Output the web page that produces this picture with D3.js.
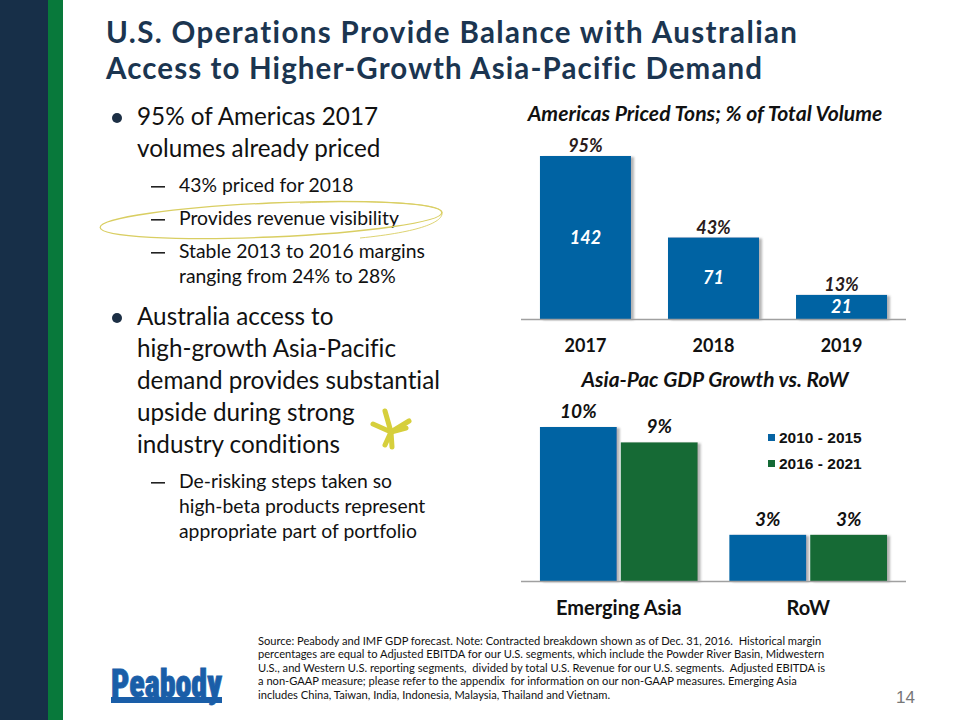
<!DOCTYPE html>
<html><head><meta charset="utf-8">
<script src="https://cdn.jsdelivr.net/npm/d3@7/dist/d3.min.js"></script>
<style>html,body{margin:0;padding:0;background:#fff;}svg{display:block;}text{font-variant-ligatures:none;white-space:pre;}</style>
</head><body>
<svg id="c" width="960" height="720"></svg>
<script>
// ---------- data ----------
const titleLines = ["U.S. Operations Provide Balance with Australian", "Access to Higher-Growth Asia-Pacific Demand"];
const pricedTitle = "Americas Priced Tons; % of Total Volume";
const pricedYears = ["2017", "2018", "2019"];
const pricedTons = [142, 71, 21];
const pricedPct = ["95%", "43%", "13%"];
const gdpTitle = "Asia-Pac GDP Growth vs. RoW";
const gdpRegions = ["Emerging Asia", "RoW"];
const gdpSeries = ["2010 - 2015", "2016 - 2021"];
const gdp2010to2015 = [10, 3];
const gdp2016to2021 = [9, 3];
const bulletLines = [
  {lvl:1, txt:"95% of Americas 2017", b:true},
  {lvl:1, txt:"volumes already priced"},
  {lvl:2, txt:"43% priced for 2018", b:true},
  {lvl:2, txt:"Provides revenue visibility", b:true},
  {lvl:2, txt:"Stable 2013 to 2016 margins", b:true},
  {lvl:2, txt:"ranging from 24% to 28%"},
  {lvl:1, txt:"Australia access to", b:true},
  {lvl:1, txt:"high-growth Asia-Pacific"},
  {lvl:1, txt:"demand provides substantial"},
  {lvl:1, txt:"upside during strong"},
  {lvl:1, txt:"industry conditions"},
  {lvl:2, txt:"De-risking steps taken so", b:true},
  {lvl:2, txt:"high-beta products represent"},
  {lvl:2, txt:"appropriate part of portfolio"}
];
const footLines = [
  "Source: Peabody and IMF GDP forecast. Note: Contracted breakdown shown as of Dec. 31, 2016.  Historical margin",
  "percentages are equal to Adjusted EBITDA for our U.S. segments, which include the Powder River Basin, Midwestern",
  "U.S., and Western U.S. reporting segments,  divided by total U.S. Revenue for our U.S. segments.  Adjusted EBITDA is",
  "a non-GAAP measure; please refer to the appendix  for information on our non-GAAP measures. Emerging Asia",
  "includes China, Taiwan, India, Indonesia, Malaysia, Thailand and Vietnam."
];
const pageNumber = "14";

// ---------- helpers ----------
const svg = d3.select("#c");
const BLUE = "#0663a3", GREEN = "#146a36", NAVY = "#1b3550";
const SANS = "Lato, 'Open Sans', sans-serif";

function fitSize(sel, refNode, target) {
  sel.attr("font-size", 100);
  const w = refNode.getComputedTextLength();
  sel.attr("font-size", 100 * target / w);
}

const defs = svg.append("defs");
const f = defs.append("filter").attr("id","sh").attr("x","-10%").attr("y","-10%").attr("width","130%").attr("height","120%");
f.append("feDropShadow").attr("dx",3).attr("dy",1).attr("stdDeviation",1.2).attr("flood-color","#7a7a7a").attr("flood-opacity",0.55);

// side stripes
svg.append("rect").attr("x",0).attr("y",0).attr("width",48).attr("height",720).attr("fill","#172f48");
svg.append("rect").attr("x",48).attr("y",0).attr("width",15).attr("height",720).attr("fill","#08793b");

// title
const tg = svg.append("g");
const tt = tg.selectAll("text").data(titleLines).join("text")
  .attr("x",106).attr("y",(d,i)=>43+i*36)
  .attr("font-family",SANS).attr("font-weight","bold").attr("font-size",29.5).attr("fill",NAVY).text(d=>d);
tt.filter((d,i)=>i===0).attr("textLength",691).attr("lengthAdjust","spacing");
tt.filter((d,i)=>i===1).attr("textLength",656).attr("lengthAdjust","spacing");

// bullets
const ys = [125,157,192,225,258,283,325,357,389,421,453,488,513,538];
const bg = svg.append("g").attr("font-family",SANS).attr("fill","#111");
const l1 = bg.selectAll("text.l1").data(bulletLines.map((d,i)=>({...d,y:ys[i]})).filter(d=>d.lvl===1)).join("text")
  .attr("class","l1").attr("x",137).attr("y",d=>d.y).text(d=>d.txt);
fitSize(l1, l1.nodes().find(n=>n.textContent.startsWith("demand")), 303);
const l2 = bg.selectAll("text.l2").data(bulletLines.map((d,i)=>({...d,y:ys[i]})).filter(d=>d.lvl===2)).join("text")
  .attr("class","l2").attr("x",179).attr("y",d=>d.y).text(d=>d.txt);
fitSize(l2, l2.nodes().find(n=>n.textContent.startsWith("Stable")), 246);
bulletLines.forEach((d,i)=>{
  if(!d.b) return;
  if(d.lvl===1) bg.append("circle").attr("cx",117).attr("cy",ys[i]-7).attr("r",5).attr("fill","#1c2f45");
  else bg.append("rect").attr("x",151).attr("y",ys[i]-6).attr("width",14).attr("height",1.6).attr("fill","#222");
});

// hand-drawn ellipse
const eg = svg.append("g").attr("fill","none").attr("stroke","#d9ce62").attr("stroke-width",1.3);
eg.append("ellipse").attr("cx",271).attr("cy",220).attr("rx",171).attr("ry",17).attr("transform","rotate(-2.5 271 220)");
eg.append("path").attr("d","M300,203 C360,200 440,202 442,212 C444,222 420,232 360,238").attr("stroke-width",0.9);

// star
const sg = svg.append("g").attr("stroke","#d6cf3c").attr("stroke-width",5).attr("stroke-linecap","round");
const starArms = [[-6,-21],[18,-11],[15,-4],[1,15],[-6,13],[-18,-8]];
starArms.forEach(a=>sg.append("line").attr("x1",391).attr("y1",432).attr("x2",391+a[0]).attr("y2",432+a[1]));

// ---------- chart 1 ----------
const c1 = svg.append("g");
const x1 = d3.scaleBand().domain(pricedYears).range([521,906]).paddingInner(0.289).paddingOuter(0.148);
const y1 = d3.scaleLinear().domain([0,142]).range([319,156]);
const t1 = c1.append("text").attr("x",705).attr("y",121).attr("text-anchor","middle")
  .attr("font-family",SANS).attr("font-weight","bold").attr("font-style","italic").attr("fill","#111").text(pricedTitle);
fitSize(t1, t1.node(), 355);
c1.selectAll("rect.bar").data(pricedTons).join("rect").attr("class","bar")
  .attr("x",(d,i)=>x1(pricedYears[i])).attr("width",x1.bandwidth())
  .attr("y",d=>y1(d)).attr("height",d=>y1(0)-y1(d)).attr("fill",BLUE).attr("filter","url(#sh)");
c1.append("line").attr("x1",521).attr("x2",906).attr("y1",319.5).attr("y2",319.5).attr("stroke","#a0a0a0").attr("stroke-width",1.5);
c1.selectAll("text.in").data(pricedTons).join("text").attr("class","in")
  .attr("x",(d,i)=>x1(pricedYears[i])+x1.bandwidth()/2).attr("y",d=>(y1(d)+y1(0))/2+6)
  .attr("text-anchor","middle").attr("font-family",SANS).attr("font-weight","bold").attr("font-style","italic")
  .attr("font-size",18).attr("fill","#fff").text(d=>d);
c1.selectAll("text.pct").data(pricedTons).join("text").attr("class","pct")
  .attr("x",(d,i)=>x1(pricedYears[i])+x1.bandwidth()/2).attr("y",d=>y1(d)-4)
  .attr("text-anchor","middle").attr("font-family",SANS).attr("font-weight","bold").attr("font-style","italic")
  .attr("font-size",18).attr("fill","#2a1b1b").text((d,i)=>pricedPct[i]);
c1.selectAll("text.cat").data(pricedYears).join("text").attr("class","cat")
  .attr("x",d=>x1(d)+x1.bandwidth()/2).attr("y",352).attr("text-anchor","middle")
  .attr("font-family",SANS).attr("font-weight","bold").attr("font-size",18).attr("fill","#111").text(d=>d);

// ---------- chart 2 ----------
const c2 = svg.append("g");
const gdpValues = [gdp2010to2015, gdp2016to2021];
const gdpColors = [BLUE, GREEN];
const x2 = d3.scaleBand().domain(gdpRegions).range([521,906]).paddingInner(0.1675).paddingOuter(0.1);
const x2i = d3.scaleBand().domain(gdpSeries).range([0,x2.bandwidth()]).paddingInner(0.05);
const y2 = d3.scaleLinear().domain([0,10]).range([581,427]);
const t2 = c2.append("text").attr("x",715).attr("y",387).attr("text-anchor","middle")
  .attr("font-family",SANS).attr("font-weight","bold").attr("font-style","italic").attr("fill","#111").text(gdpTitle);
fitSize(t2, t2.node(), 267);
const flat = [];
gdpRegions.forEach((r,ri)=>gdpSeries.forEach((s,si)=>flat.push({r,s,si,v:gdpValues[si][ri]})));
c2.selectAll("rect.bar").data(flat).join("rect").attr("class","bar")
  .attr("x",d=>x2(d.r)+x2i(d.s)).attr("width",x2i.bandwidth())
  .attr("y",d=>y2(d.v)).attr("height",d=>y2(0)-y2(d.v)).attr("fill",d=>gdpColors[d.si]).attr("filter","url(#sh)");
c2.append("line").attr("x1",521).attr("x2",906).attr("y1",581.5).attr("y2",581.5).attr("stroke","#a0a0a0").attr("stroke-width",1.5);
c2.selectAll("text.pct").data(flat).join("text").attr("class","pct")
  .attr("x",d=>x2(d.r)+x2i(d.s)+x2i.bandwidth()/2).attr("y",d=>y2(d.v)-9)
  .attr("text-anchor","middle").attr("font-family",SANS).attr("font-weight","bold").attr("font-style","italic")
  .attr("font-size",19).attr("fill","#111").text(d=>d.v+"%");
c2.selectAll("text.cat").data(gdpRegions).join("text").attr("class","cat")
  .attr("x",d=>x2(d)+x2.bandwidth()/2).attr("y",615).attr("text-anchor","middle")
  .attr("font-family",SANS).attr("font-weight","bold").attr("font-size",20).attr("fill","#111").text(d=>d);
const lg = c2.append("g");
gdpSeries.forEach((s,i)=>{
  lg.append("rect").attr("x",768).attr("y",434+i*26).attr("width",7).attr("height",7).attr("fill",gdpColors[i]);
  lg.append("text").attr("x",779).attr("y",443+i*26).attr("font-family","'Liberation Sans', Arial, sans-serif")
    .attr("font-weight","bold").attr("font-size",15.5).attr("fill","#111").text(s);
});

// ---------- footer ----------
const fg = svg.append("g").attr("font-family",SANS).attr("fill","#111");
const ft = fg.selectAll("text").data(footLines).join("text").attr("x",258).attr("y",(d,i)=>645+i*13.4).text(d=>d);
fitSize(ft, ft.nodes()[1], 567);
svg.append("text").attr("x",915).attr("y",703).attr("text-anchor","end").attr("font-family","'Liberation Sans', Arial, sans-serif")
  .attr("font-size",17).attr("fill","#777").text(pageNumber);

// logo
const lgo = svg.append("g");
lgo.append("text").attr("x",111).attr("y",697).attr("font-family","'Liberation Sans Narrow','Roboto Condensed','Liberation Sans',sans-serif")
  .attr("font-weight","900").attr("font-size",38).attr("fill","#1a5ea8").attr("stroke","#1a5ea8").attr("stroke-width",0.8)
  .attr("textLength",111).attr("lengthAdjust","spacingAndGlyphs").text("Peabody");
lgo.append("rect").attr("x",111).attr("y",697).attr("width",111).attr("height",6).attr("fill","#1a5ea8");
</script>
</body></html>
